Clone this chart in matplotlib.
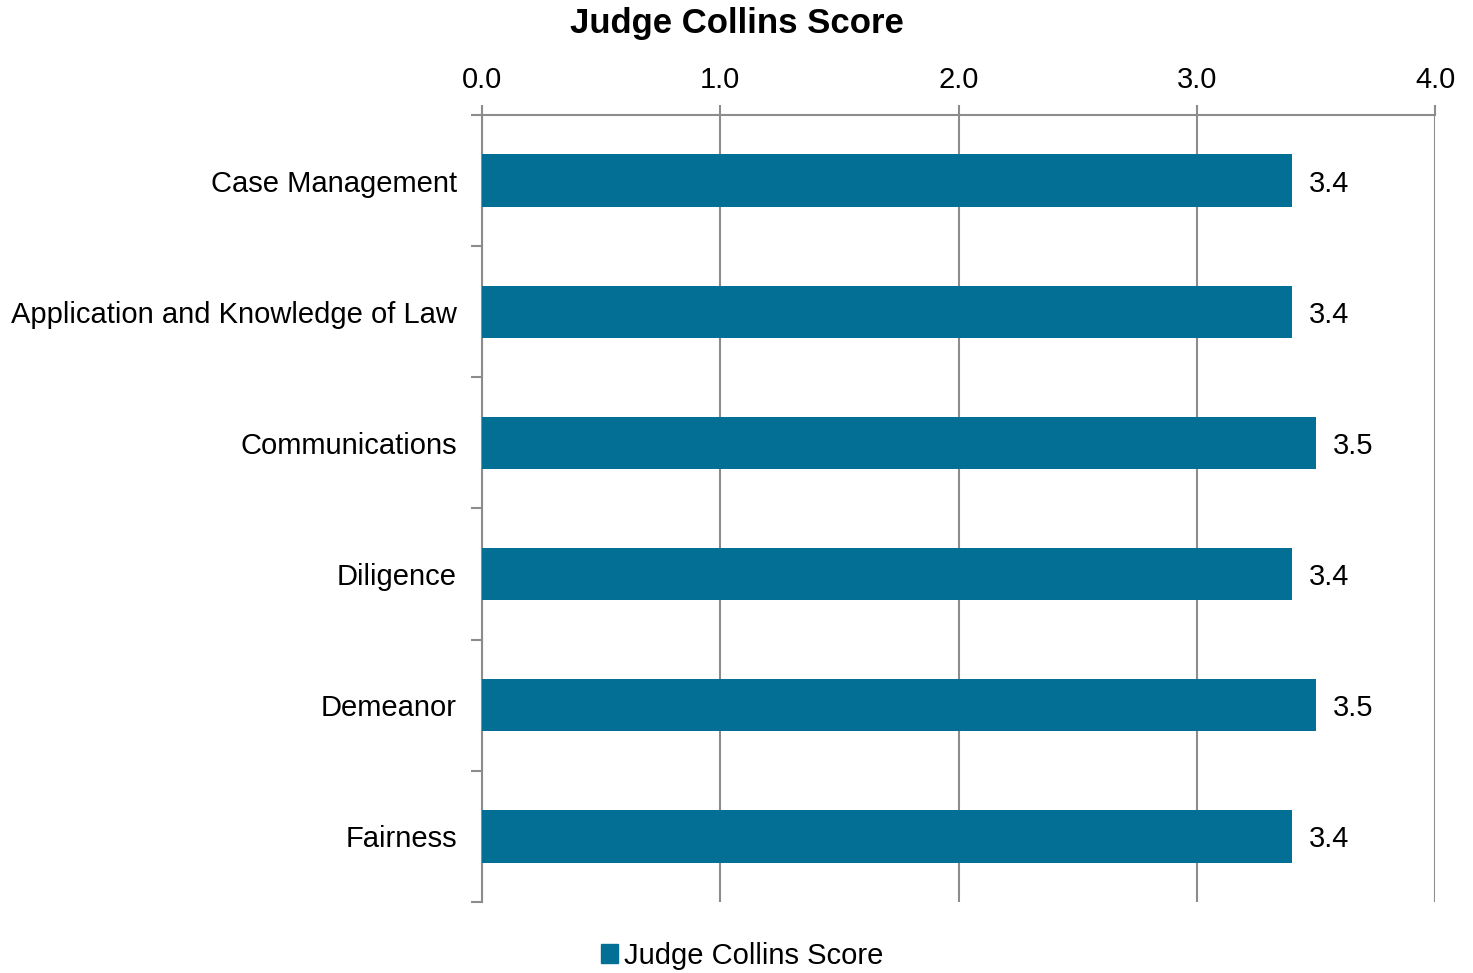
import matplotlib
matplotlib.use("Agg")
import matplotlib.pyplot as plt
from matplotlib.patches import Patch
import numpy as np

plt.rcParams['font.family'] = ['Liberation Sans', 'DejaVu Sans']

categories = ["Case Management", "Application and Knowledge of Law", "Communications",
              "Diligence", "Demeanor", "Fairness"]
scores = [3.4, 3.4, 3.5, 3.4, 3.5, 3.4]
xticks = [0.0, 1.0, 2.0, 3.0, 4.0]
series_name = "Judge Collins Score"
title = "Judge Collins Score"

bar_color = "#036F94"
grid_color = "#8C8C8C"
fs = 21

fig = plt.figure(figsize=(14.73, 9.73), dpi=100)
ax = fig.add_axes([482/1473, 1-902/973, (1435-482)/1473, (902-115)/973])

y = np.arange(len(categories))
ax.barh(y, scores, height=0.4, color=bar_color, zorder=3)
ax.set_ylim(len(categories)-0.5, -0.5)
ax.set_xlim(0, 4.0)

ax.xaxis.tick_top()
ax.set_xticks(xticks)
ax.set_xticklabels([f"{v:.1f}" for v in xticks], fontsize=fs)
ax.tick_params(axis='x', length=7, width=1.5, color=grid_color, pad=8)

ax.set_yticks(y)
ax.set_yticklabels(categories, fontsize=fs)
ax.set_yticks(np.arange(len(categories)+1)-0.5, minor=True)
ax.tick_params(axis='y', which='major', length=0, pad=18)
ax.tick_params(axis='y', which='minor', length=8, width=1.5, color=grid_color)

ax.grid(axis='x', color=grid_color, linewidth=1.5, zorder=0)
for s in ['right', 'bottom']:
    ax.spines[s].set_visible(False)
for s in ['left', 'top']:
    ax.spines[s].set_color(grid_color)
    ax.spines[s].set_linewidth(1.5)

for yi, v in zip(y, scores):
    ax.text(v + 0.07, yi, f"{v:.1f}", va='center_baseline', ha='left', fontsize=fs)

fig.text(737/1473, 1-24/973, title, ha='center', va='center', fontsize=25, fontweight='bold')

fig.legend(handles=[Patch(color=bar_color, label=series_name)], loc='center',
           bbox_to_anchor=(742/1473, 1-956/973), frameon=False, fontsize=fs,
           handlelength=0.6, handleheight=0.6, handletextpad=0.2)

fig.savefig("out.png", dpi=100)
